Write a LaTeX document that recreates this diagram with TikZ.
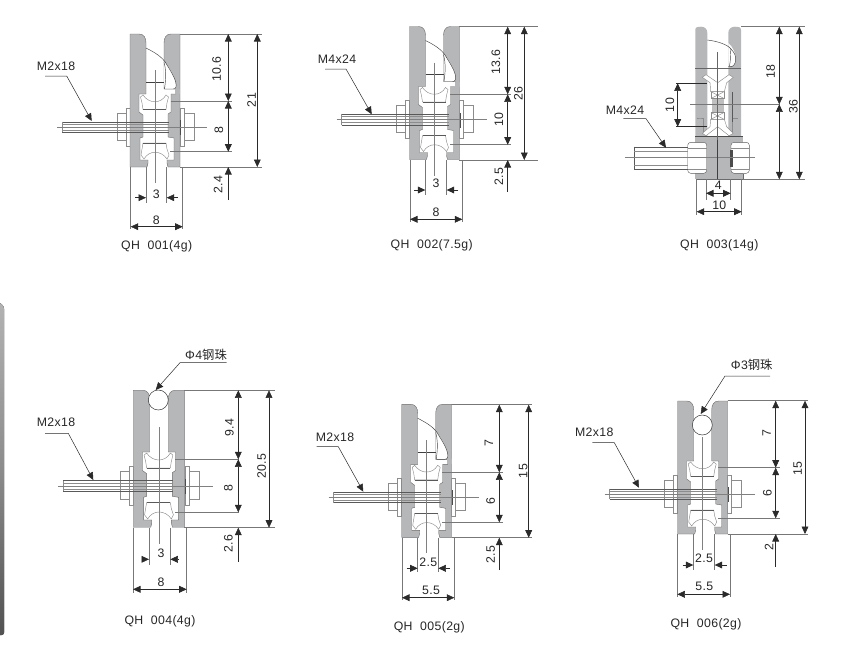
\documentclass[tikz,border=0pt]{standalone}
\usepackage{fontspec}
\setmainfont[LetterSpace=3]{Liberation Sans}
\newfontfamily\cjk{Noto Sans CJK SC}
\usetikzlibrary{arrows.meta}
\definecolor{plate}{HTML}{B6B7B9}
\definecolor{edge}{HTML}{6A6A6A}
\definecolor{extc}{HTML}{777777}
\definecolor{dimc}{HTML}{2A2A2A}
\tikzset{
  tipa/.tip={Triangle[length=7.5pt,width=6.8pt]},
  dimboth/.style={line width=.55pt,draw=dimc,arrows={tipa-tipa}},
  dimend/.style={line width=.55pt,draw=dimc,arrows={-tipa}},
  extl/.style={line width=.55pt,draw=extc},
  platefill/.style={fill=plate,draw=edge,line width=.4pt},
  thinb/.style={line width=.4pt,draw=black!65},
  thing/.style={line width=.45pt,draw=black!45},
  axisl/.style={line width=.45pt,draw=black!50},
  txt/.style={font=\fontsize{12.3}{13}\selectfont,inner sep=0pt,text=black!85},
}
\newcounter{lbl}
\newcommand{\lab}[3]{\stepcounter{lbl}\node[txt] (lab\thelbl) at (#1,#2) {#3};}
\newcommand{\rlab}[3]{\stepcounter{lbl}\node[txt,rotate=90] (lab\thelbl) at (#1,#2) {#3};}
\newcommand{\vd}[3]{\draw[dimboth] (#1,#2)--(#1,#3);}
\newcommand{\hd}[3]{\draw[dimboth] (#2,#1)--(#3,#1);}
\newcommand{\ex}[4]{\draw[extl] (#1,#2)--(#3,#4);}
% leader: label point, elbow, tip
\newcommand{\leader}[6]{\stepcounter{lbl}
  \coordinate (ls\thelbl) at (#1,#2);\coordinate (le\thelbl) at (#3,#2);\coordinate (lt\thelbl) at (#5,#6);
  \draw[line width=.5pt,draw=dimc,arrows={-tipa}] (ls\thelbl)--(le\thelbl)--(lt\thelbl);}
% generic fitting: cx, cy, scale, kind (1 latch, 2 ball)
\newcommand{\fitting}[4]{%
\begin{scope}[shift={(#1,#2)},x=#3pt,y=-#3pt]
  % nuts and washers
  \draw[thing,fill=white] (-38,-14) rectangle (-29,13);
  \draw[thing,fill=white] (-29,-19) rectangle (-25,19);
  \draw[thing,fill=white] (29,-14) rectangle (39,13);
  \draw[thing,fill=white] (25,-19) rectangle (29,19);
  % plates
  \draw[platefill] (-25,-93)--(-16,-93) .. controls (-11,-93) and (-9,-89) .. (-9,-84)
     --(-9,-33)--(-16,-33)--(-16,-15)--(-12,-12)--(-12,10)--(-15,11)--(-15,33)--(-7,33)--(-7,36)--(-8,40)--(-25,40)--cycle;
  \ifnum#4=1
  \draw[platefill] (25,-93)--(16,-93) .. controls (11,-93) and (9,-89) .. (9,-84)
     --(9,-38)--(21,-38)--(21,-33)--(16,-33)--(16,-15)--(13,-13)--(13,10)--(19,11)--(19,33)--(12,33)--(12,36)--(13,40)--(25,40)--cycle;
  \fill[plate] (20,-38) rectangle (25,-33);
  % latch
  \fill[white] (9,-66) .. controls (16,-58) and (22,-46) .. (21,-40) .. controls (20.5,-38) and (19,-38) .. (18,-38)--(10,-38)--(9,-42)--cycle;
  \draw[line width=.45pt,draw=black!75] (-9,-79) .. controls (-1,-75) and (8,-70) .. (12,-62) .. controls (17,-54) and (22,-46) .. (21,-40) .. controls (20.5,-38) and (19,-38) .. (18,-38)--(10,-38);
  \draw[line width=.45pt,draw=black!75] (9,-65) .. controls (11,-58) and (11,-50) .. (10,-42)--(9.5,-38);
  \draw[line width=.45pt,draw=black!75] (-9,-45)--(9,-45);
  \else
  \draw[platefill] (25,-93)--(16,-93) .. controls (11,-93) and (9,-89) .. (9,-84)
     --(9,-33)--(16,-33)--(16,-15)--(13,-13)--(13,10)--(19,11)--(19,33)--(12,33)--(12,36)--(13,40)--(25,40)--cycle;
  \fi
  \fill[black!70] (25,-7) rectangle (26,8);
  % rollers
  \draw[thing,fill=white] (-12,-17.5)--(-13,-24)--(-14.5,-30)--(-12,-32) .. controls (-6,-23) and (6,-23) .. (11,-32)--(13.5,-30)--(12,-24)--(11,-17.5)--cycle;
  \draw[thing,fill=white] (-12,16)--(11,16)--(12,22)--(14,28)--(12,32) .. controls (6,23) and (-6,23) .. (-11,32)--(-14,28)--(-13,22)--cycle;
  \draw[thinb] (-12,-17.5)--(11,-17.5);
  \draw[thinb] (-12,16)--(11,16);
  % shaft
  \draw[thinb] (-93,-5.3)--(14,-5.3);
  \draw[thing] (-93,-3)--(14,-3);
  \draw[thing] (-93,3)--(14,3);
  \draw[thinb] (-93,5.3)--(14,5.3);
  \draw[thing] (-93,-5.3)--(-93,5.3);
  % axes
  \draw[axisl] (-98,0)--(52,0);
  \draw[axisl] (0,-57)--(0,56);
\end{scope}}
\begin{document}
\begin{tikzpicture}[x=1pt,y=-1pt]
\useasboundingbox (0,0) rectangle (863,667);
% side strip
\fill[top color=black!30,bottom color=black!68,middle color=black!45,rounded corners=2.5pt] (-4,300) -- (4,306) -- (4,635) -- (-4,635) -- cycle;

%% QH 001
\fitting{155}{127}{1}{1}
\ex{180}{34}{262}{34}\ex{180}{167}{262}{167}
\ex{170.7}{101}{232}{101}\ex{170}{151.7}{232}{151.7}
\ex{130.7}{167}{130.7}{229}\ex{182.7}{167}{182.7}{229}
\ex{146}{167}{146}{203}\ex{166.7}{167}{166.7}{203}
\vd{228.3}{34}{101}\vd{228.3}{101}{151.7}\vd{257.3}{34}{167}
\draw[dimend] (228.3,200)--(228.3,167);
\hd{226.7}{130.7}{182.7}
\draw[dimend] (135,197.7)--(146,197.7);\draw[dimend] (178,197.7)--(166.7,197.7);
\rlab{216.7}{69.3}{10.6}\rlab{219}{130}{8}\rlab{218}{185}{2.4}\rlab{251.7}{100}{21}
\lab{156.3}{194.3}{3}\lab{156.3}{220}{8}\lab{156.7}{246}{QH\ \ 001(4g)}
\lab{56}{66}{M2x18}\leader{45}{76}{66.7}{76}{91.7}{121}

%% QH 002
\fitting{434.5}{119.5}{1}{1}
\ex{459.3}{26.7}{538}{26.7}\ex{459.3}{160}{538}{160}
\ex{450}{94.3}{511}{94.3}\ex{450}{144.7}{511}{144.7}
\ex{410}{160}{410}{221.7}\ex{462.3}{160}{462.3}{221.7}
\ex{425.3}{160}{425.3}{195}\ex{446.7}{160}{446.7}{195}
\vd{507.7}{26.7}{94.3}\vd{507.7}{94.3}{144.7}\vd{524.3}{26.7}{160}
\draw[dimend] (507.7,191.7)--(507.7,160);
\hd{219.3}{410}{462.3}
\draw[dimend] (414.3,190)--(425.3,190);\draw[dimend] (458.3,190)--(446.7,190);
\rlab{496}{62.3}{13.6}\rlab{518.3}{93.3}{26}\rlab{499}{119.3}{10}\rlab{499}{176.7}{2.5}
\lab{436}{183.3}{3}\lab{436}{212.3}{8}\lab{431.7}{245}{QH\ \ 002(7.5g)}
\lab{337}{59}{M4x24}\leader{325}{69}{346}{69}{371.7}{114.3}

%% QH 003
% plates
\fill[plate] (695.3,136.7)--(695.3,30) .. controls (695.3,26.7) and (698,26.7) .. (701,26.7) .. controls (705,26.7) and (707.3,29) .. (707.3,33)--(707.3,136.7)--cycle;
\fill[plate] (741,136.7)--(741,30) .. controls (741,26.7) and (738,26.7) .. (735,26.7) .. controls (731,26.7) and (728.3,29) .. (728.3,33)--(728.3,136.7)--cycle;
\fill[plate] (695.3,136.7) rectangle (742.7,179.3);
\draw[line width=.4pt,draw=edge] (696,179.3)--(742.7,179.3)--(742.7,174);
\draw[line width=.7pt,draw=black!70] (695,136.7)--(743,136.7);
\draw[line width=.5pt,draw=black!60] (695.3,68.3)--(741,68.3);
% inner edge detail
\draw[thing] (703,134)--(703,118)--(700,118)--(697,118);
\draw[thing] (732,134)--(732,118)--(738,118);
\draw[thinb] (732,92)--(732,122);
% latch
\fill[white] (728.3,43) .. controls (733,47) and (736,54) .. (735.7,60) .. controls (735.5,64) and (733,66.7) .. (731,66.7)--(728.3,66.7)--cycle;
\draw[line width=.45pt,draw=black!75] (707.3,40) .. controls (716,41) and (727,44) .. (731,49) .. controls (735,53) and (736,57) .. (735.7,60) .. controls (735.5,64) and (733,66.7) .. (731,66.7)--(728.3,66.7);
\draw[line width=.45pt,draw=black!75] (729.5,66) .. controls (731,60) and (730,53) .. (731,49);
% bearing
\fill[white] (710.7,91.7) rectangle (724.3,119.3);
\fill[black!25] (711.5,99) rectangle (723.5,112);
\draw[thing] (711,91.7) rectangle (724,98.5);\draw[thing] (711,91.7)--(724,98.5);\draw[thing] (724,91.7)--(711,98.5);
\draw[thing] (711,112.5) rectangle (724,119.3);\draw[thing] (711,112.5)--(724,119.3);\draw[thing] (724,112.5)--(711,119.3);
% V rollers
\draw[thing,fill=white] (702.3,77.3)--(706,74.7)--(717.7,82.7)--(729,74.7)--(733.3,77.3)--(726.7,82.7)--(724.3,91.7)--(710.7,91.7)--(710,82.7)--cycle;
\draw[thing,fill=white] (702.3,133.3)--(706,135.7)--(717.7,126.7)--(729,135.7)--(733.3,133.3)--(726.7,126.7)--(724.3,119.3)--(710.7,119.3)--(710,126.7)--cycle;
% nuts
\draw[thinb,fill=white,rounded corners=3pt] (687.7,142.3) rectangle (706.7,173.3);
\draw[thinb,fill=white,rounded corners=3pt] (731,142.3) rectangle (749.3,173.3);
\fill[black!70] (730,150) rectangle (733,167);
\draw[thing] (688,148)--(706.5,148);\draw[thing] (688,169)--(706.5,169);
\draw[thing] (731,148)--(749,148);\draw[thing] (731,169)--(749,169);
% shaft and axes
\draw[thinb] (634.3,146.7)--(687.7,146.7);\draw[thinb] (634.3,169)--(687.7,169);
\draw[thinb] (634.3,146.7)--(634.3,169);
\draw[thing] (634.3,151)--(687.7,151);\draw[thing] (634.3,165)--(687.7,165);
\draw[axisl] (625,157.7)--(755,157.7);
\draw[line width=.7pt,draw=black!75] (717.7,140)--(717.7,179.3);
\draw[line width=.5pt,draw=black!60] (717.7,52)--(717.7,140);
% dims
\ex{741}{26.7}{805}{26.7}\ex{742.7}{179.3}{805}{179.3}\ex{690}{104.3}{780}{104.3}
\draw[line width=.5pt,draw=dimc] (676,83.3)--(706.7,83.3);\draw[line width=.5pt,draw=dimc] (676,126.7)--(706.7,126.7);
\ex{696.7}{179.3}{696.7}{215}\ex{741.7}{179.3}{741.7}{215}
\ex{706}{179.3}{706}{200}\ex{730.7}{179.3}{730.7}{200}
\vd{779.3}{26.7}{104.3}\vd{779.3}{104.3}{179.3}\vd{799.3}{26.7}{179.3}\vd{677.7}{83.3}{126.7}
\hd{211.7}{696.7}{741.7}\hd{193.3}{706}{730.7}
\rlab{770.7}{71.7}{18}\rlab{793.3}{106.7}{36}\rlab{670}{105}{10}
\lab{718.3}{185.7}{4}\lab{719.3}{205.7}{10}\lab{719.3}{245}{QH\ \ 003(14g)}
\lab{625}{110.7}{M4x24}\leader{623.3}{118.7}{646}{118.7}{666}{147.7}

%% QH 004
\fitting{159}{486}{1.03}{2}
\draw[line width=.5pt,draw=black!80,fill=white] (158.3,400) circle (10);
\ex{184}{390.3}{275}{390.3}\ex{184}{527.7}{275}{527.7}
\ex{175}{459.3}{239}{459.3}\ex{175}{512.3}{239}{512.3}
\ex{133}{527.7}{133}{592.7}\ex{186.7}{527.7}{186.7}{592.7}
\ex{149}{527.7}{149}{565}\ex{170.3}{527.7}{170.3}{565}
\vd{238.3}{390.3}{459.3}\vd{238.3}{459.3}{512.3}\vd{269}{390.3}{527.7}
\draw[dimend] (238.3,561.7)--(238.3,527.7);
\hd{589.3}{133}{186.7}
\draw[dimend] (142.3,559.3)--(149,559.3);\draw[dimend] (179,559.3)--(170.3,559.3);
\rlab{229.3}{427.3}{9.4}\rlab{228.3}{488.3}{8}\rlab{228.3}{543.3}{2.6}\rlab{261.7}{466}{20.5}
\lab{161}{553.3}{3}\lab{161}{582.3}{8}\lab{160}{621}{QH\ \ 004(4g)}
\lab{56}{422.7}{M2x18}\leader{45}{433.3}{68.3}{433.3}{93.3}{480}
\lab{206}{355}{Φ4{\cjk 钢珠}}\leader{226.7}{362.7}{180}{362.7}{155.7}{390}

%% QH 005
\fitting{426.7}{497.3}{1}{1}
\ex{451.7}{404.7}{531.7}{404.7}\ex{451.7}{537.7}{531.7}{537.7}
\ex{442}{472.3}{503}{472.3}\ex{442}{522.3}{503}{522.3}
\ex{402}{537.7}{402}{600}\ex{454.3}{537.7}{454.3}{600}
\ex{417.7}{537.7}{417.7}{571.7}\ex{438.3}{537.7}{438.3}{571.7}
\vd{499.3}{404.7}{472.3}\vd{499.3}{472.3}{522.3}\vd{528.7}{404.7}{537.7}
\draw[dimend] (499.3,570)--(499.3,537.7);
\hd{597.7}{402}{454.3}
\draw[dimend] (406.7,568.3)--(417.7,568.3);\draw[dimend] (450,568.3)--(438.3,568.3);
\rlab{489}{443.3}{7}\rlab{490.7}{501}{6}\rlab{490.7}{555}{2.5}\rlab{523.3}{471}{15}
\lab{428.3}{562.3}{2.5}\lab{431}{590.7}{5.5}\lab{429.3}{627}{QH\ \ 005(2g)}
\lab{335}{437.3}{M2x18}\leader{316.7}{446.7}{338.3}{446.7}{363.3}{491.7}

%% QH 006
\fitting{702.7}{494}{1}{2}
\draw[line width=.5pt,draw=black!80,fill=white] (702.3,425) circle (10);
\ex{727.7}{400.7}{808.3}{400.7}\ex{727.7}{534}{808.3}{534}
\ex{718}{467.7}{780}{467.7}\ex{718}{518.3}{780}{518.3}
\ex{677.7}{534}{677.7}{596.7}\ex{730}{534}{730}{596.7}
\ex{693.3}{534}{693.3}{570}\ex{714.7}{534}{714.7}{570}
\vd{775.7}{400.7}{467.7}\vd{775.7}{467.7}{518.3}\vd{805}{400.7}{534}
\draw[dimend] (775.7,566.7)--(775.7,534);
\hd{594.3}{677.3}{730}
\draw[dimend] (682.7,565)--(693.3,565);\draw[dimend] (726.7,565)--(714.7,565);
\rlab{766.7}{432.7}{7}\rlab{767.3}{492.7}{6}\rlab{769}{547.3}{2}\rlab{797.7}{468.3}{15}
\lab{704}{558.3}{2.5}\lab{704.3}{586.7}{5.5}\lab{706}{624.7}{QH\ \ 006(2g)}
\lab{594.3}{432.3}{M2x18}\leader{592.3}{442.7}{614.3}{442.7}{639}{487.7}
\lab{751.7}{365}{Φ3{\cjk 钢珠}}\leader{770}{376}{725}{376}{700.7}{414}
\end{tikzpicture}
\end{document}
